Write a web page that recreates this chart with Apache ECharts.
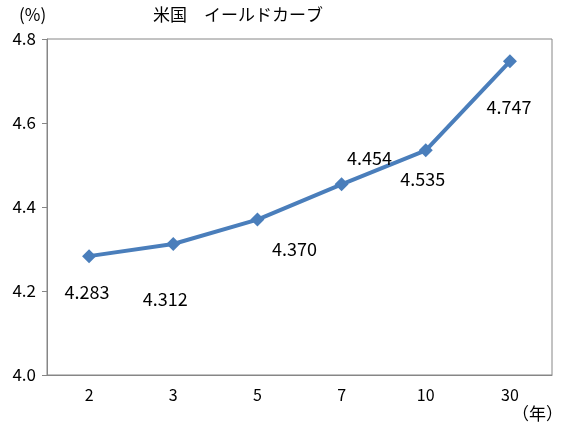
<!DOCTYPE html>
<html><head><meta charset="utf-8">
<script src="https://cdn.jsdelivr.net/npm/echarts@6/dist/echarts.min.js"></script>
<style>html,body{margin:0;padding:0;background:#fff}#c{width:565px;height:431px}</style>
</head><body><div id="c"></div>
<script>
const categories = ['2', '3', '5', '7', '10', '30'];
const yields = [4.283, 4.312, 4.370, 4.454, 4.535, 4.747];
const yTicks = [4.0, 4.2, 4.4, 4.6, 4.8];

// label offsets per point (style)
const labelOffsets = [[-2, 36], [-8, 55], [37, 30], [28, -26], [-3, 29], [-1, 46]];
const FONT = '"Noto Sans CJK JP", sans-serif';
const chart = echarts.init(document.getElementById('c'), null, {renderer: 'canvas'});
chart.setOption({
  animation: false,
  backgroundColor: '#fff',
  textStyle: {fontFamily: FONT},
  grid: {left: 47, right: 13, top: 39, bottom: 56, show: true, borderColor: '#868686', borderWidth: 1, backgroundColor: 'transparent'},
  graphic: [
    {type: 'text', left: 153, top: 6, style: {text: '米国　イールドカーブ', font: '17px ' + FONT, fill: '#000'}},
    {type: 'text', left: 19, top: 6, style: {text: '(%)', font: '17px ' + FONT, fill: '#000'}},
    {type: 'text', right: 2, top: 405, style: {text: '（年）', font: '17px ' + FONT, fill: '#000'}}
  ],
  xAxis: {
    type: 'category', data: categories, boundaryGap: true,
    axisLine: {show: true, lineStyle: {color: '#868686'}},
    axisTick: {show: false},
    axisLabel: {color: '#000', fontSize: 16, margin: 12, fontFamily: FONT}
  },
  yAxis: {
    type: 'value', min: 4.0, max: 4.8, interval: 0.2,
    axisLine: {show: true, lineStyle: {color: '#868686'}},
    axisTick: {show: true, inside: false, length: 5, lineStyle: {color: '#868686'}},
    splitLine: {show: false},
    axisLabel: {color: '#000', fontSize: 17, margin: 11, fontFamily: FONT,
      formatter: v => yTicks.includes(Math.round(v * 10) / 10) ? v.toFixed(1) : ''}
  },
  series: [{
    type: 'line', data: yields.map((v, i) => ({
      value: v,
      label: {show: true, position: 'inside', offset: labelOffsets[i]}
    })),
    symbol: 'diamond', symbolSize: 14,
    lineStyle: {color: '#4A7EBB', width: 4},
    itemStyle: {color: '#4A7EBB'},
    label: {color: '#000', fontSize: 18, fontFamily: FONT, formatter: p => p.value.toFixed(3)}
  }]
});
</script></body></html>
